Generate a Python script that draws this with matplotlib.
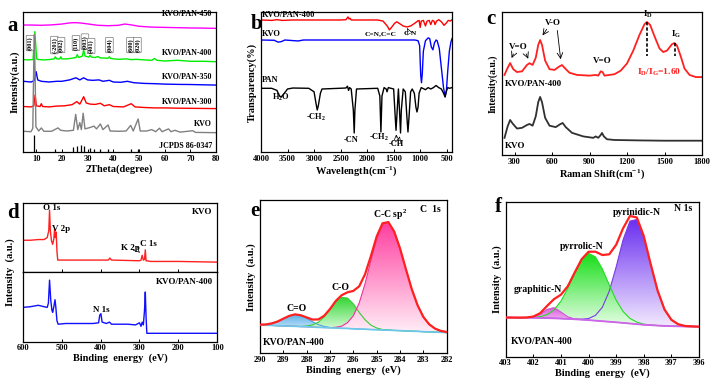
import numpy as np
import matplotlib.pyplot as plt
from matplotlib.colors import LinearSegmentedColormap

plt.rcParams['font.family'] = ['Liberation Serif', 'DejaVu Serif']
plt.rcParams['font.weight'] = 'bold'
plt.rcParams['axes.labelweight'] = 'bold'
plt.rcParams['mathtext.fontset'] = 'custom'
plt.rcParams['mathtext.rm'] = 'Liberation Serif:bold'
plt.rcParams['mathtext.it'] = 'Liberation Serif:bold'
plt.rcParams['mathtext.bf'] = 'Liberation Serif:bold'

# ---------------- (a) XRD ----------------
xrd_450 = [(5, 9.07), (8, 9.07), (12, 9.05), (16, 9.08), (20, 9.14), (23, 9.22), (25, 9.24), (27, 9.22),
           (30, 9.15), (34, 9.05), (38, 9.02), (42, 9.05), (44.5, 9.14), (47, 9.08), (50, 8.98), (55, 8.92),
           (60, 8.9), (65, 8.88), (70, 8.86), (75, 8.85), (80, 8.83)]
xrd_400 = [(5, 6.6), (7, 6.58), (8.8, 6.6), (9.5, 8.6), (10.2, 6.65), (11, 6.6), (13, 6.58), (15, 6.6),
           (17, 6.65), (17.5, 6.8), (18, 6.65), (19.2, 6.65), (19.6, 6.8), (20, 6.65), (22, 6.65), (24, 6.7),
           (25.5, 6.75), (26, 6.95), (26.5, 6.75), (28, 6.85), (28.5, 7.29), (29, 6.85), (30.5, 6.78),
           (31, 6.9), (31.5, 6.78), (33, 6.75), (34, 6.82), (35, 6.72), (38, 6.7), (38.5, 6.8), (39, 6.68),
           (42, 6.62), (45, 6.65), (47, 6.6), (49, 6.62), (52, 6.58), (55, 6.55), (56, 6.68), (57, 6.55),
           (60, 6.5), (65, 6.55), (70, 6.48), (75, 6.48), (80, 6.45)]
xrd_350 = [(5, 5.05), (8, 5.0), (9.3, 5.1), (10, 5.74), (10.6, 5.15), (12, 5.05), (15, 5.0), (18, 5.05),
           (20, 5.05), (23, 5.15), (25.5, 5.3), (27, 5.15), (28.5, 5.3), (30, 5.15), (32, 5.12), (34.5, 5.15),
           (36, 5.05), (38.5, 5.12), (40, 5.0), (43, 4.98), (45.5, 5.05), (48, 4.95), (52, 4.9), (56, 4.88),
           (60, 4.85), (65, 4.83), (70, 4.82), (80, 4.78)]
xrd_300 = [(5, 3.25), (8, 3.22), (9.1, 3.3), (9.6, 4.07), (10.1, 3.3), (11.5, 3.25), (12, 3.45), (12.5, 3.25),
           (15, 3.22), (18, 3.28), (21, 3.3), (24, 3.38), (25.8, 3.6), (27, 3.42), (28.5, 3.95), (29.5, 3.5),
           (31, 3.42), (33, 3.4), (35, 3.48), (36.5, 3.3), (38.5, 3.38), (40, 3.25), (44, 3.22), (47, 3.45),
           (48.5, 3.22), (52, 3.18), (56, 3.15), (60, 3.15), (65, 3.13), (70, 3.12), (80, 3.1)]
xrd_kvo = [(5, 1.48), (8, 1.45), (8.7, 1.7), (9.0, 5.5), (9.3, 8.4), (9.6, 5.5), (9.9, 1.8), (11, 1.5),
           (12, 1.72), (13, 1.48), (16, 1.48), (18.5, 1.72), (19.5, 1.55), (22, 1.5), (24.5, 1.55), (25.4, 2.69),
           (26.2, 1.6), (27, 2.1), (27.6, 1.6), (28.3, 2.77), (29, 1.65), (31, 1.75), (32.5, 1.85), (33.5, 1.65),
           (35, 2.0), (36, 1.6), (38, 1.93), (38.8, 1.5), (42, 1.48), (45, 1.5), (46.8, 1.9), (47.8, 1.5),
           (49.7, 2.36), (50.5, 1.5), (53, 1.5), (55, 1.6), (56.5, 1.45), (58, 1.7), (59, 1.45), (61.5, 1.65),
           (62.5, 1.45), (64, 1.55), (66, 1.42), (71, 1.52), (72, 1.4), (80, 1.38)]
jcpds_pos = [9.3, 17.5, 24.5, 25.8, 27.3, 28.5, 31.0, 32.5, 35.0, 38.0, 47.0, 49.5]
jcpds_int = [1.2, 0.25, 0.35, 0.45, 0.5, 0.45, 0.3, 0.25, 0.25, 0.25, 0.2, 0.25]
hkl_labels = ['(001)', '(-201)', '(002)', '(110)', '(003)', '(401)', '(004)', '(600)', '(020)']
hkl_x = [7.6, 17.1, 19.7, 25.5, 29.0, 31.4, 38.5, 46.7, 49.4]
hkl_y = [7.78, 7.64, 7.64, 7.78, 7.88, 7.57, 7.64, 7.64, 7.64]

# ---------------- (b) FTIR ----------------
ir_kvo_pan = [(4000, 9.43), (3800, 9.4), (3700, 9.45), (3600, 9.4), (3400, 9.43), (3000, 9.43), (2500, 9.43),
              (2400, 9.45), (2360, 9.65), (2340, 9.5), (2320, 9.55), (2300, 9.43), (2000, 9.43), (1800, 9.43),
              (1700, 9.35), (1620, 9.0), (1580, 8.72), (1540, 8.9), (1480, 9.2), (1440, 9.3), (1400, 9.2),
              (1320, 9.0), (1250, 8.93), (1180, 9.0), (1100, 9.2), (1050, 9.35), (1020, 9.4), (1000, 8.9),
              (980, 9.35), (940, 9.4), (900, 9.0), (870, 9.35), (830, 9.4), (800, 9.1), (770, 9.4), (740, 9.35),
              (720, 9.1), (690, 9.35), (650, 9.45), (600, 9.3), (550, 9.05), (510, 9.2), (470, 9.4), (430, 9.35),
              (400, 9.45)]
ir_kvo = [(4000, 8.0), (3750, 7.98), (3680, 7.85), (3620, 7.88), (3550, 8.0), (3300, 7.93), (3200, 8.0),
          (2000, 8.0), (1100, 8.0), (1040, 7.95), (1010, 7.6), (990, 5.5), (975, 4.95), (960, 5.6), (940, 7.2),
          (900, 7.95), (850, 8.15), (820, 8.1), (790, 7.5), (760, 7.3), (730, 7.8), (700, 8.0), (680, 7.95),
          (640, 7.4), (600, 6.0), (560, 4.6), (530, 3.95), (505, 4.4), (480, 5.8), (450, 7.2), (420, 7.85),
          (400, 8.1)]
ir_pan = [(4000, 4.55), (3800, 4.55), (3700, 4.4), (3650, 4.0), (3620, 3.93), (3580, 4.1), (3500, 4.5),
          (3400, 4.57), (3100, 4.55), (3000, 4.3), (2960, 3.4), (2940, 3.0), (2920, 3.3), (2880, 4.2),
          (2850, 4.5), (2400, 4.57), (2370, 4.7), (2350, 4.4), (2330, 4.6), (2300, 4.5), (2260, 3.0),
          (2243, 1.36), (2230, 3.0), (2200, 4.5), (1800, 4.55), (1760, 4.0), (1740, 1.43), (1720, 4.0),
          (1680, 4.6), (1640, 4.5), (1625, 4.3), (1600, 4.6), (1500, 4.5), (1470, 2.5), (1455, 1.55),
          (1440, 2.5), (1410, 4.5), (1390, 3.0), (1370, 1.36), (1355, 3.0), (1320, 4.5), (1280, 4.3),
          (1250, 2.5), (1230, 1.43), (1210, 2.5), (1180, 4.3), (1150, 4.5), (1110, 4.2), (1080, 3.2),
          (1060, 2.86), (1040, 3.2), (1020, 4.2), (980, 4.6), (900, 4.45), (850, 4.6), (800, 4.5), (750, 4.6),
          (700, 4.75), (650, 4.6), (600, 4.5), (560, 4.2), (530, 3.93), (510, 4.3), (480, 4.6), (450, 4.55),
          (400, 4.6)]

# ---------------- (c) Raman ----------------
raman_kvo_pan = [(220, 5.6), (240, 6.0), (265, 6.43), (290, 6.0), (320, 5.8), (360, 5.85), (400, 6.3),
                 (420, 6.42), (445, 6.3), (470, 6.8), (490, 7.7), (505, 8.04), (520, 7.7), (545, 6.6),
                 (580, 6.0), (620, 5.95), (660, 6.2), (680, 6.29), (700, 6.1), (740, 5.75), (800, 5.6),
                 (900, 5.55), (950, 5.6), (970, 5.55), (990, 5.85), (1005, 5.8), (1020, 5.55), (1100, 5.65),
                 (1150, 5.9), (1200, 6.4), (1250, 7.3), (1300, 8.4), (1340, 9.15), (1360, 9.3), (1385, 9.1),
                 (1420, 8.3), (1460, 7.45), (1490, 7.2), (1520, 7.3), (1560, 7.75), (1580, 7.83), (1600, 7.65),
                 (1630, 6.9), (1660, 6.05), (1700, 5.6), (1750, 5.45), (1800, 5.45)]
raman_kvo = [(220, 1.2), (245, 2.0), (265, 2.45), (285, 2.2), (320, 1.85), (360, 1.9), (400, 2.1), (420, 2.17),
             (445, 2.05), (470, 2.7), (490, 3.7), (505, 4.06), (520, 3.7), (545, 2.6), (580, 2.05), (630, 1.95),
             (665, 2.15), (685, 2.24), (710, 1.95), (760, 1.55), (850, 1.3), (930, 1.2), (950, 1.3), (970, 1.2),
             (990, 1.4), (1000, 1.54), (1015, 1.3), (1040, 1.1), (1100, 1.05), (1300, 1.02), (1500, 1.0),
             (1800, 1.0)]

# ---------------- (d) XPS survey ----------------
xps_kvo = [(600, 0.46), (580, 0.46), (560, 0.47), (545, 0.47), (537, 0.5), (533, 0.6), (531, 0.9), (529, 0.6),
           (526, 0.45), (523, 0.4), (520, 0.48), (518, 0.62), (516, 0.5), (514, 0.58), (512, 0.3), (510, 0.17),
           (500, 0.17), (380, 0.17), (376, 0.2), (372, 0.17), (300, 0.16), (296, 0.17), (293, 0.24),
           (290, 0.17), (287, 0.18), (285, 0.32), (283, 0.16), (270, 0.15), (200, 0.15), (100, 0.14)]
xps_kvo_pan = [(600, 0.49), (580, 0.5), (560, 0.52), (545, 0.5), (537, 0.49), (534, 0.55), (531, 0.88),
               (528, 0.6), (525, 0.45), (523, 0.42), (520, 0.5), (517, 0.6), (515, 0.5), (512, 0.3), (509, 0.25),
               (490, 0.26), (420, 0.26), (405, 0.27), (402, 0.38), (399, 0.4), (396, 0.28), (385, 0.26),
               (377, 0.28), (372, 0.25), (330, 0.25), (310, 0.24), (300, 0.27), (296, 0.22), (293, 0.28),
               (290, 0.24), (287, 0.45), (285, 0.71), (283, 0.35), (281, 0.12), (270, 0.12), (200, 0.12),
               (100, 0.12)]

# ---------------- (e) C 1s ----------------
c1s_be = [290, 289.75, 289.5, 289.25, 289, 288.75, 288.5, 288.25, 288, 287.75, 287.5, 287.25, 287, 286.75,
          286.5, 286.25, 286, 285.75, 285.5, 285.25, 285, 284.75, 284.5, 284.25, 284, 283.75, 283.5, 283.25,
          283, 282.75, 282.5, 282.25, 282]
c1s_bg = [0.185, 0.183, 0.182, 0.180, 0.179, 0.177, 0.176, 0.174, 0.173, 0.171, 0.169, 0.168, 0.166, 0.165,
          0.163, 0.162, 0.160, 0.158, 0.157, 0.155, 0.154, 0.152, 0.151, 0.149, 0.148, 0.146, 0.144, 0.143,
          0.141, 0.140, 0.138, 0.137, 0.135]
c1s_co_double = [0.002, 0.005, 0.013, 0.027, 0.047, 0.067, 0.078, 0.073, 0.056, 0.035, 0.018, 0.007, 0.002,
                 0.001, 0, 0, 0, 0, 0, 0, 0, 0, 0, 0, 0, 0, 0, 0, 0, 0, 0, 0, 0]
c1s_co_single = [0, 0, 0, 0, 0, 0, 0, 0.001, 0.005, 0.014, 0.034, 0.070, 0.120, 0.171, 0.202, 0.198, 0.162,
                 0.109, 0.062, 0.029, 0.011, 0.003, 0.001, 0, 0, 0, 0, 0, 0, 0, 0, 0, 0]
c1s_cc = [0, 0, 0, 0, 0, 0, 0, 0, 0, 0, 0, 0, 0.001, 0.005, 0.014, 0.038, 0.085, 0.170, 0.296, 0.449, 0.597,
          0.693, 0.704, 0.645, 0.536, 0.404, 0.276, 0.171, 0.096, 0.049, 0.023, 0.009, 0.004]

# ---------------- (f) N 1s ----------------
n1s_be = [403, 402.75, 402.5, 402.25, 402, 401.75, 401.5, 401.25, 401, 400.75, 400.5, 400.25, 400, 399.75,
          399.5, 399.25, 399, 398.75, 398.5, 398.25, 398, 397.75, 397.5, 397.25, 397, 396.75, 396.5, 396.25, 396]
n1s_bg = [0.253, 0.2525, 0.252, 0.2515, 0.251, 0.250, 0.249, 0.2475, 0.246, 0.244, 0.2415, 0.239, 0.236,
          0.2325, 0.229, 0.2255, 0.222, 0.218, 0.214, 0.210, 0.206, 0.2035, 0.201, 0.199, 0.197, 0.196, 0.195,
          0.1945, 0.194]
n1s_graphitic = [0, 0, 0, 0.0005, 0.005, 0.023, 0.056, 0.069, 0.042, 0.013, 0.002, 0, 0, 0, 0, 0, 0, 0, 0, 0,
                 0, 0, 0, 0, 0, 0, 0, 0, 0]
n1s_pyrrolic = [0, 0, 0, 0.001, 0.003, 0.008, 0.023, 0.055, 0.112, 0.198, 0.299, 0.387, 0.431, 0.411, 0.337,
                0.238, 0.143, 0.074, 0.033, 0.013, 0.004, 0.001, 0, 0, 0, 0, 0, 0, 0]
n1s_pyridinic = [0, 0, 0, 0, 0, 0, 0, 0, 0, 0, 0.001, 0.003, 0.010, 0.034, 0.090, 0.197, 0.357, 0.536, 0.661,
                 0.675, 0.568, 0.393, 0.226, 0.106, 0.041, 0.013, 0.003, 0.001, 0]


def pixel_axes(fig, left, right, top, bottom):
    w, h = 720, 383
    return fig.add_axes([left / w, 1 - bottom / h, (right - left) / w, (bottom - top) / h])


def style(ax, xlabel=None):
    ax.tick_params(axis='x', direction='in', length=2.5, width=0.7, labelsize=6, pad=2)
    ax.tick_params(axis='y', left=False, labelleft=False)
    for s in ax.spines.values():
        s.set_linewidth(0.9)
    if xlabel:
        ax.set_xlabel(xlabel, fontsize=7.5, labelpad=1)


def xy(pairs):
    arr = np.array(pairs, dtype=float)
    return arr[:, 0], arr[:, 1]


def grad_fill(ax, x, lo, hi, c_top, c_bot, z):
    poly = ax.fill_between(x, lo, hi, color='none', lw=0)
    cmap = LinearSegmentedColormap.from_list('g', [c_bot, c_top])
    im = ax.imshow(np.linspace(0, 1, 128).reshape(-1, 1), cmap=cmap, aspect='auto', origin='lower',
                   extent=[min(x), max(x), min(lo), max(hi)], zorder=z, interpolation='bilinear')
    im.set_clip_path(poly.get_paths()[0], transform=ax.transData)


def panel_a(fig):
    ax = pixel_axes(fig, 23.3, 216, 12, 152)
    for data, c in [(xrd_450, '#ff00ff'), (xrd_400, '#00ee00'), (xrd_350, '#0000ff'),
                    (xrd_300, '#ff0000'), (xrd_kvo, '#808080')]:
        x, y = xy(data)
        ax.plot(x, y, color=c, lw=1.0)
    ax.vlines(jcpds_pos, 0, jcpds_int, color='black', lw=0.9)
    for lab, hx, hy in zip(hkl_labels, hkl_x, hkl_y):
        ax.text(hx, hy, lab, rotation=90, fontsize=4.5, ha='center', va='center',
                bbox=dict(boxstyle='round,pad=0.15', fc='white', ec='0.35', lw=0.4))
    for lab, ly in [('KVO/PAN-450', 9.86), ('KVO/PAN-400', 7.07), ('KVO/PAN-350', 5.36),
                    ('KVO/PAN-300', 3.57), ('KVO', 2.0), ('JCPDS 86-0347', 0.43)]:
        ax.text(78.5, ly, lab, fontsize=5.8, ha='right', va='center')
    ax.set_xlim(5, 80)
    ax.set_ylim(0, 10)
    ax.set_xticks(range(10, 81, 10))
    style(ax, '2Theta(degree)')
    ax.set_ylabel('Intensity(a.u.)', fontsize=7.5, labelpad=3)


def panel_b(fig):
    ax = pixel_axes(fig, 261, 452, 12, 152)
    for data, c in [(ir_kvo_pan, '#ff0000'), (ir_kvo, '#0000ff'), (ir_pan, 'black')]:
        x, y = xy(data)
        ax.plot(x, y, color=c, lw=1.0)
    fs = 6
    ax.text(3990, 9.79, 'KVO/PAN-400', fontsize=fs, va='center')
    ax.text(3990, 8.43, 'KVO', fontsize=fs, va='center')
    ax.text(3990, 5.14, 'PAN', fontsize=fs, va='center')
    ax.text(3631, 3.93, 'H$_2$O', fontsize=fs, ha='center', va='center')
    ax.text(2957, 2.5, '-CH$_2$', fontsize=fs, ha='center', va='center')
    ax.text(2300, 0.86, '-CN', fontsize=fs, ha='center', va='center')
    ax.text(1772, 1.07, '-CH$_2$', fontsize=fs, ha='center', va='center')
    ax.text(1448, 0.6, '-CH', fontsize=fs, ha='center', va='center')
    ax.annotate('', xy=(1455, 1.45), xytext=(1445, 0.85), arrowprops=dict(arrowstyle='->', lw=0.5))
    ax.annotate('', xy=(1370, 1.3), xytext=(1400, 0.85), arrowprops=dict(arrowstyle='->', lw=0.5))
    ax.text(1740, 8.43, 'C=N,C=C', fontsize=5.3, ha='center', va='center')
    ax.text(1178, 8.43, 'C-N', fontsize=5.3, ha='center', va='center')
    ax.annotate('', xy=(1242, 8.85), xytext=(1215, 8.6), arrowprops=dict(arrowstyle='->', lw=0.5))
    ax.set_xlim(4000, 400)
    ax.set_ylim(0, 10)
    ax.set_xticks(range(4000, 499, -500))
    style(ax, 'Wavelength(cm$^{-1}$)')
    ax.set_ylabel('Transparency(%)', fontsize=7.5, labelpad=3)


def panel_c(fig):
    ax = pixel_axes(fig, 502, 702, 12, 155)
    x, y = xy(raman_kvo_pan)
    ax.plot(x, y, color='#ff2020', lw=1.3)
    x, y = xy(raman_kvo)
    ax.plot(x, y, color='#303030', lw=1.3)
    fs = 6.5
    arr = dict(arrowstyle='->', lw=0.6)
    ax.text(333, 7.55, 'V=O', fontsize=fs, ha='center', va='center')
    ax.annotate('', xy=(268, 6.6), xytext=(300, 7.25), arrowprops=arr)
    ax.annotate('', xy=(418, 6.55), xytext=(385, 7.25), arrowprops=arr)
    ax.text(606, 9.2, 'V-O', fontsize=fs, ha='center', va='center')
    ax.annotate('', xy=(512, 8.2), xytext=(570, 8.95), arrowprops=arr)
    ax.annotate('', xy=(672, 6.5), xytext=(640, 8.9), arrowprops=arr)
    ax.text(1002, 6.6, 'V=O', fontsize=fs, ha='center', va='center')
    ax.text(1371, 9.86, 'I$_D$', fontsize=fs, ha='center', va='center')
    ax.text(1590, 8.4, 'I$_G$', fontsize=fs, ha='center', va='center')
    ax.plot([1360, 1360], [9.3, 6.9], color='black', lw=1.2, ls=(0, (2, 1.2)))
    ax.plot([1580, 1580], [7.8, 6.9], color='black', lw=1.2, ls=(0, (2, 1.2)))
    ax.text(1455, 5.8, 'I$_D$/I$_G$=1.60', fontsize=6.8, color='#ff2020', ha='center', va='center')
    ax.text(226, 4.96, 'KVO/PAN-400', fontsize=fs, va='center')
    ax.text(226, 0.63, 'KVO', fontsize=fs, va='center')
    ax.set_xlim(200, 1800)
    ax.set_ylim(0, 10)
    ax.set_xticks(range(300, 1801, 300))
    style(ax, 'Raman Shift(cm$^{-1}$)')
    ax.set_ylabel('Intensity(a.u.)', fontsize=7, labelpad=3)


def panel_d(fig):
    top = pixel_axes(fig, 22.7, 217.3, 203.3, 271.7)
    bot = pixel_axes(fig, 22.7, 217.3, 271.7, 341.7)
    x, y = xy(xps_kvo)
    top.plot(x, y, color='#ff2020', lw=1.0)
    x, y = xy(xps_kvo_pan)
    bot.plot(x, y, color='#1010ff', lw=1.0)
    fs = 6.5
    top.text(525, 0.93, 'O 1s', fontsize=fs, ha='center', va='center')
    top.text(502, 0.63, 'V 2p', fontsize=fs, ha='center', va='center')
    top.text(324, 0.35, 'K 2p', fontsize=fs, ha='center', va='center')
    top.annotate('', xy=(294, 0.25), xytext=(305, 0.31), arrowprops=dict(arrowstyle='->', lw=0.5))
    top.text(276, 0.4, 'C 1s', fontsize=fs, ha='center', va='center')
    top.text(112, 0.87, 'KVO', fontsize=fs, ha='right', va='center')
    bot.text(112, 0.85, 'KVO/PAN-400', fontsize=fs, ha='right', va='center')
    bot.text(397, 0.46, 'N 1s', fontsize=fs, ha='center', va='center')
    for ax in (top, bot):
        ax.set_xlim(600, 100)
        ax.set_ylim(0, 1)
        ax.set_xticks(range(600, 99, -100))
        style(ax)
    top.tick_params(axis='x', labelbottom=False)
    bot.set_xlabel('Binding  energy  (eV)', fontsize=7.5, labelpad=1)
    fig.text(10 / 720, 1 - 272 / 383, 'Intensity  (a.u.)', rotation=90, fontsize=7.5,
             ha='center', va='center')


def panel_e(fig):
    ax = pixel_axes(fig, 260, 446.7, 200, 353.3)
    x = np.array(c1s_be)
    bg = np.array(c1s_bg)
    comps = [(c1s_co_double, '#5aaee8', '#e6f4ff', '#4aa0e0'),
             (c1s_co_single, '#33d633', '#eaffea', '#33cc33'),
             (c1s_cc, '#ff3fa0', '#ffeef7', '#ee3399')]
    for i, (comp, ctop, cbot, cl) in enumerate(comps):
        hi = bg + np.array(comp)
        grad_fill(ax, x, bg, hi, ctop, cbot, 1 + i)
    for i, (comp, ctop, cbot, cl) in enumerate(comps):
        hi = bg + np.array(comp)
        ax.plot(x, hi, color=cl, lw=0.8, zorder=5)
    ax.plot(x, bg, color='#6cc8ea', lw=1.2, zorder=5)
    env = bg + np.array(c1s_co_double) + np.array(c1s_co_single) + np.array(c1s_cc)
    ax.plot(x, env, color='#ff2020', lw=1.6, zorder=6)
    ax.text(288.43, 0.293, 'C=O', fontsize=7, ha='center', va='center')
    ax.text(286.57, 0.428, 'C-O', fontsize=7, ha='center', va='center')
    ax.text(284.43, 0.905, 'C-C sp$^2$', fontsize=7, ha='center', va='center')
    ax.text(282.71, 0.94, 'C  1s', fontsize=7, ha='center', va='center')
    ax.text(289.86, 0.072, 'KVO/PAN-400', fontsize=7, ha='left', va='center')
    ax.set_xlim(290, 282)
    ax.set_ylim(0, 1)
    ax.set_xticks(range(290, 281, -1))
    style(ax, 'Binding  energy  (eV)')
    ax.set_ylabel('Intensity  (a.u.)', fontsize=7.5, labelpad=3)


def panel_f(fig):
    ax = pixel_axes(fig, 505.7, 699, 201.7, 356.7)
    x = np.array(n1s_be)
    bg = np.array(n1s_bg)
    comps = [(n1s_pyridinic, '#6a2ef0', '#f3eaff', '#7a3ae6', 1),
             (n1s_pyrrolic, '#18de18', '#eaffea', '#22dd22', 2),
             (n1s_graphitic, '#df5fe0', '#f8e4f8', '#d050d8', 3)]
    for comp, ctop, cbot, cl, z in comps:
        grad_fill(ax, x, bg, bg + np.array(comp), ctop, cbot, z)
    for comp, ctop, cbot, cl, z in comps:
        ax.plot(x, bg + np.array(comp), color=cl, lw=0.8, zorder=5)
    ax.plot(x, bg, color='#cc66e8', lw=1.3, zorder=5)
    env = bg + np.array(n1s_pyridinic) + np.array(n1s_pyrrolic) + np.array(n1s_graphitic)
    ax.plot(x, env, color='#ff2020', lw=1.6, zorder=6)
    ax.text(401.82, 0.434, 'graphitic-N', fontsize=7, ha='center', va='center')
    ax.text(400.25, 0.71, 'pyrrolic-N', fontsize=7, ha='center', va='center')
    ax.text(398.26, 0.93, 'pyrinidic-N', fontsize=7, ha='center', va='center')
    ax.text(396.57, 0.953, 'N 1s', fontsize=7, ha='center', va='center')
    ax.text(402.8, 0.097, 'KVO/PAN-400', fontsize=7, ha='left', va='center')
    ax.set_xlim(403, 396)
    ax.set_ylim(0, 1)
    ax.set_xticks(range(403, 395, -1))
    style(ax, 'Binding  energy  (eV)')
    ax.set_ylabel('Intensity  (a.u.)', fontsize=7.5, labelpad=3)


def main() -> None:
    fig = plt.figure(figsize=(7.2, 3.83), dpi=100)
    panel_a(fig)
    panel_b(fig)
    panel_c(fig)
    panel_d(fig)
    panel_e(fig)
    panel_f(fig)
    for letter, px, py in [('a', 13, 26), ('b', 257, 24), ('c', 491, 19),
                           ('d', 13, 213), ('e', 255, 211), ('f', 498, 207)]:
        fig.text(px / 720, 1 - py / 383, letter, fontsize=15, fontweight='bold',
                 ha='center', va='center')
    fig.savefig('out.png', dpi=100)


if __name__ == '__main__':
    main()
